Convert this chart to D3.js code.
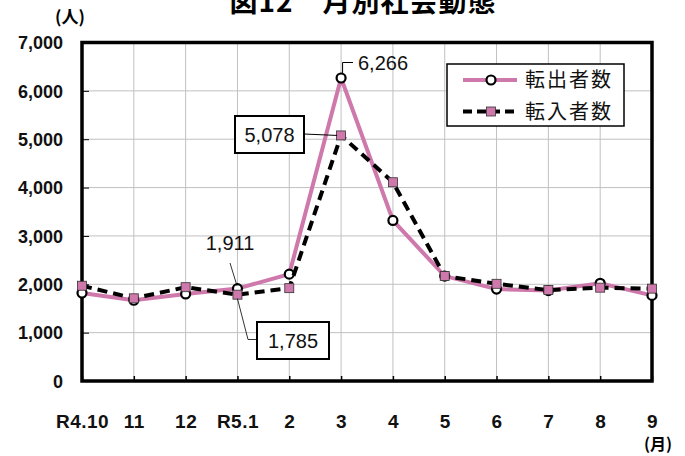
<!DOCTYPE html>
<html><head><meta charset="utf-8">
<script src="https://cdn.jsdelivr.net/npm/d3@7"></script>
<style>body{margin:0;background:#fff}svg{display:block}</style>
</head><body>
<script>
const categories = ["R4.10","11","12","R5.1","2","3","4","5","6","7","8","9"];
const tenshutsu = [1820,1670,1800,1911,2210,6266,3320,2170,1900,1870,2020,1770]; // 転出者数
const tennyu = [1970,1710,1940,1785,1920,5078,4110,2170,2010,1880,1930,1910]; // 転入者数
const yTicks = [0,1000,2000,3000,4000,5000,6000,7000];

const W=685,H=456;
const svg=d3.select("body").append("svg").attr("width",W).attr("height",H);
const x=d3.scalePoint().domain(categories).range([82,652]);
const y=d3.scaleLinear().domain([0,7000]).range([381,42.5]);
const pink="#cf78ab";
const jp="'Noto Sans CJK JP','Noto Sans',sans-serif";
const num="'Liberation Sans',Arial,sans-serif";
const narrow="'Liberation Sans Narrow','Liberation Sans',Arial,sans-serif";

// title
svg.append("text").attr("x",363).attr("y",12).attr("text-anchor","middle")
  .attr("font-family",jp).attr("font-weight","bold").attr("font-size",28)
  .attr("letter-spacing",1).text("図12　月別社会動態");

// grid
svg.append("g").selectAll("line").data(yTicks).join("line")
  .attr("x1",82).attr("x2",652).attr("y1",d=>y(d)).attr("y2",d=>y(d))
  .attr("stroke","#c0c0c0").attr("stroke-width",1);
svg.append("g").selectAll("line").data(categories).join("line")
  .attr("x1",d=>x(d)).attr("x2",d=>x(d)).attr("y1",y(0)).attr("y2",y(7000))
  .attr("stroke","#c0c0c0").attr("stroke-width",1);

// axes via d3
const yAxis=svg.append("g").attr("transform","translate(82,0)")
  .call(d3.axisLeft(y).tickValues(yTicks).tickFormat(d3.format(",")).tickSize(-7).tickPadding(19));
yAxis.select(".domain").remove();
yAxis.selectAll(".tick line").attr("stroke","#000").attr("stroke-width",1);
yAxis.selectAll("text").attr("font-family",num).attr("font-weight","bold").attr("font-size",18)
  .attr("fill","#111").attr("dy","0.35em");

const xAxis=svg.append("g").attr("transform","translate(0,381)")
  .call(d3.axisBottom(x).tickSize(-5).tickPadding(34));
xAxis.select(".domain").remove();
xAxis.selectAll(".tick line").attr("stroke","#000").attr("stroke-width",1.5);
xAxis.selectAll("text").attr("font-family",narrow).attr("font-weight","bold").attr("font-size",19)
  .attr("fill","#111").attr("letter-spacing",0.5);

// frame
svg.append("rect").attr("x",82).attr("y",y(7000)).attr("width",570).attr("height",y(0)-y(7000))
  .attr("fill","none").attr("stroke","#000").attr("stroke-width",3.5);

// unit labels
svg.append("text").attr("x",70).attr("y",23).attr("text-anchor","middle")
  .attr("font-family",jp).attr("font-weight","bold").attr("font-size",17).text("(人)");
svg.append("text").attr("x",658).attr("y",450).attr("text-anchor","middle")
  .attr("font-family",jp).attr("font-weight","bold").attr("font-size",16).text("(月)");

// lines
const line=d3.line().x((d,i)=>x(categories[i])).y(d=>y(d));
svg.append("path").datum(tenshutsu).attr("d",line).attr("fill","none")
  .attr("stroke",pink).attr("stroke-width",4);
svg.append("g").selectAll("circle").data(tenshutsu).join("circle")
  .attr("cx",(d,i)=>x(categories[i])).attr("cy",d=>y(d)).attr("r",4.5)
  .attr("fill","#fff").attr("stroke","#000").attr("stroke-width",2.2);
svg.append("path").datum(tennyu).attr("d",line).attr("fill","none")
  .attr("stroke","#000").attr("stroke-width",4).attr("stroke-dasharray","10,6");
svg.append("g").selectAll("rect").data(tennyu).join("rect")
  .attr("x",(d,i)=>x(categories[i])-4.5).attr("y",d=>y(d)-4.5).attr("width",9).attr("height",9)
  .attr("fill",pink).attr("stroke","#333").attr("stroke-width",0.8);

// data labels
const lab=svg.append("g").attr("font-family",num).attr("font-size",20).attr("fill","#111");
const px=i=>x(categories[i]);
// 6,266
lab.append("path").attr("d",`M${px(5)+1.5},${y(tenshutsu[5])-5} V62.5 H353`).attr("fill","none").attr("stroke","#000").attr("stroke-width",1);
lab.append("text").attr("x",358).attr("y",62.5).attr("dy","0.35em").text(d3.format(",")(tenshutsu[5]));
// 5,078 box
lab.append("path").attr("d",`M304,134 L${px(5)-4},${y(tennyu[5])}`).attr("stroke","#000").attr("stroke-width",1);
lab.append("rect").attr("x",235).attr("y",116).attr("width",69).attr("height",37)
  .attr("fill","#fff").attr("stroke","#000").attr("stroke-width",2);
lab.append("text").attr("x",269.5).attr("y",135).attr("dy","0.35em").attr("text-anchor","middle").text(d3.format(",")(tennyu[5]));
// 1,911
lab.append("path").attr("d",`M230,263 L${px(3)-0.5},${y(tenshutsu[3])-3}`).attr("stroke","#000").attr("stroke-width",0.8);
lab.append("text").attr("x",230).attr("y",243).attr("dy","0.35em").attr("text-anchor","middle").text(d3.format(",")(tenshutsu[3]));
// 1,785 box
lab.append("path").attr("d",`M${px(3)},${y(tennyu[3])+4} L248,339.5 H257`).attr("fill","none").attr("stroke","#000").attr("stroke-width",0.8);
lab.append("rect").attr("x",257).attr("y",322).attr("width",72).attr("height",37)
  .attr("fill","#fff").attr("stroke","#000").attr("stroke-width",2);
lab.append("text").attr("x",293).attr("y",341).attr("dy","0.35em").attr("text-anchor","middle").text(d3.format(",")(tennyu[3]));

// legend
const lg=svg.append("g");
lg.append("rect").attr("x",447).attr("y",64).attr("width",177).attr("height",62)
  .attr("fill","#fff").attr("stroke","#000").attr("stroke-width",1.5);
lg.append("line").attr("x1",463).attr("x2",517).attr("y1",80).attr("y2",80).attr("stroke",pink).attr("stroke-width",4);
lg.append("circle").attr("cx",491).attr("cy",80).attr("r",4.5).attr("fill","#fff").attr("stroke","#000").attr("stroke-width",2.2);
lg.append("line").attr("x1",463).attr("x2",517).attr("y1",111.5).attr("y2",111.5).attr("stroke","#000").attr("stroke-width",4).attr("stroke-dasharray","9,5");
lg.append("rect").attr("x",486.5).attr("y",107).attr("width",9).attr("height",9).attr("fill",pink).attr("stroke","#333").attr("stroke-width",0.8);
lg.selectAll("text").data(["転出者数","転入者数"]).join("text")
  .attr("x",525).attr("y",(d,i)=>80+i*31.5).attr("dy","0.36em")
  .attr("font-family",jp).attr("font-size",20).attr("letter-spacing",2).attr("fill","#111").text(d=>d);
</script>
</body></html>
